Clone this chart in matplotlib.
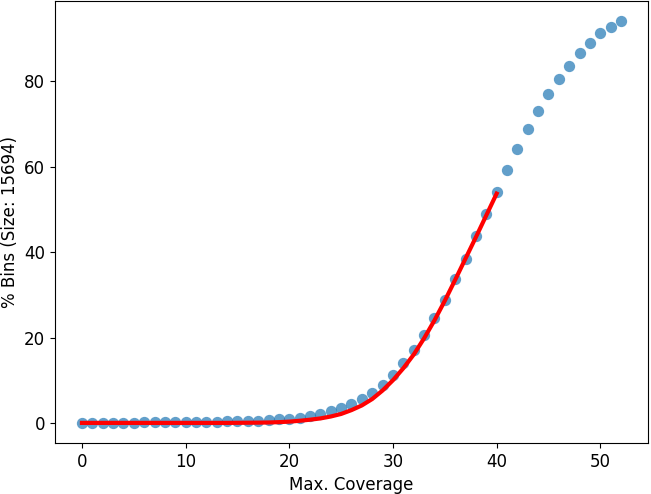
import matplotlib
matplotlib.use("Agg")
import matplotlib.pyplot as plt
import numpy as np

coverage = list(range(0, 53))
pct_bins = [0.0, 0.0, 0.0, 0.0, 0.05, 0.05, 0.1, 0.1,
            0.1, 0.15, 0.2, 0.2, 0.25, 0.3, 0.35, 0.4, 0.45, 0.55,
            0.7, 0.85, 1.0, 1.25, 1.6, 2.1, 2.7, 3.4, 4.4, 5.5, 6.9, 8.8,
            11.2, 14.0, 17.1, 20.5, 24.5, 28.8, 33.6, 38.5, 43.8, 48.9,
            54.1, 59.2, 64.1, 68.8, 73.1, 77.0, 80.5, 83.7, 86.6, 89.0,
            91.2, 92.8, 94.1]

fit_x = list(range(0, 41))
fit_y = [0.0] * 15 + [0.02, 0.04, 0.06, 0.1, 0.18, 0.3, 0.5, 0.75, 1.05, 1.5,
                      2.1, 3.0, 4.1, 5.6, 7.6, 10.0, 12.8, 16.0, 19.8, 24.0,
                      28.6, 33.5, 38.5, 43.5, 48.6, 53.7]

plt.rcParams['font.size'] = 12
fig = plt.figure(figsize=(6.51, 4.94), dpi=100)
ax = fig.add_axes([55/651, 1 - 443/494, (648-55)/651, (443-1)/494])
ax.scatter(coverage, pct_bins, s=66, color='#1f77b4', alpha=0.7, linewidths=0)
ax.plot(fit_x, fit_y, color='red', linewidth=3)
ax.set_xlabel('Max. Coverage')
ax.set_ylabel('% Bins (Size: 15694)')
fig.savefig('out.png', dpi=100)
